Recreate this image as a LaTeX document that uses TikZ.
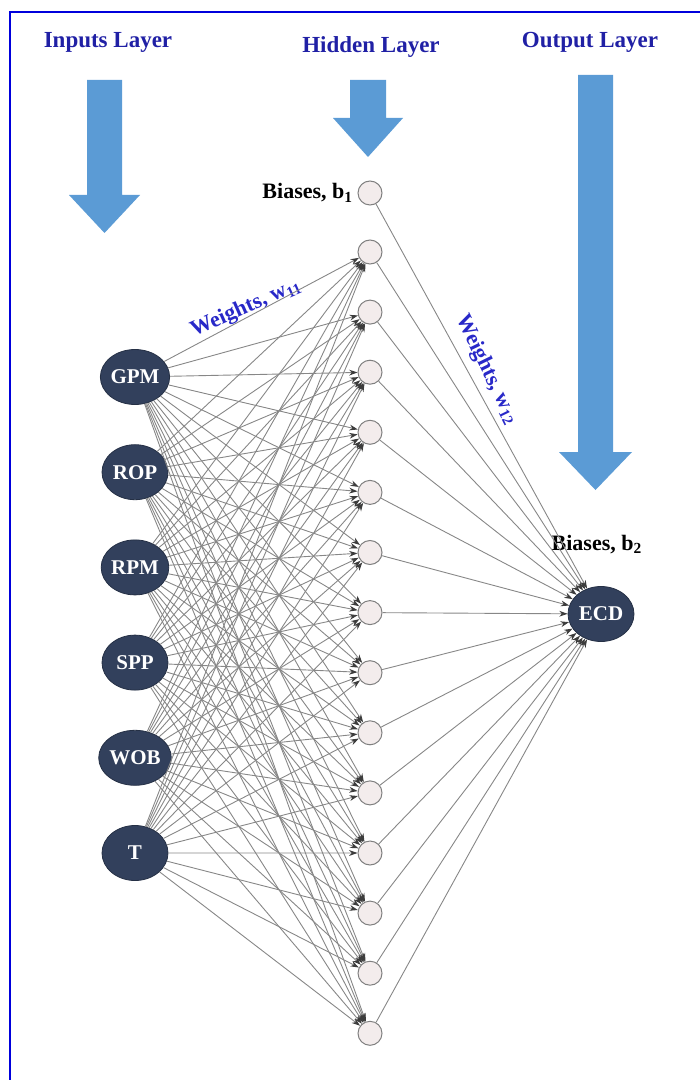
\documentclass[tikz,border=0pt]{standalone}
\usepackage{fontspec}
\setmainfont{Liberation Serif}
\usepackage{tikz}
\usetikzlibrary{arrows.meta,positioning,shapes.geometric}
\definecolor{framecol}{RGB}{0,0,220}
\definecolor{layerblue}{RGB}{91,155,213}
\definecolor{titleblue}{RGB}{32,32,165}
\definecolor{weightblue}{RGB}{40,40,200}
\definecolor{inpfill}{RGB}{50,64,92}
\definecolor{hidfill}{RGB}{243,236,236}
\definecolor{edgegray}{RGB}{135,135,135}
\definecolor{tipgray}{RGB}{60,60,60}

\begin{document}
\begin{tikzpicture}[
    x=0.5pt,y=-0.5pt,
    node distance=7pt,
    title/.style={text=titleblue,font=\fontsize{11.5}{13}\selectfont\bfseries},
    lab/.style={text=black,font=\fontsize{11}{13}\selectfont\bfseries,inner sep=1pt},
    wlab/.style={text=weightblue,font=\fontsize{11}{13}\selectfont\bfseries,inner sep=1pt},
    inp/.style={ellipse,draw=inpfill!75!black,fill=inpfill,text=white,minimum width=33pt,minimum height=27.5pt,inner sep=0pt,font=\fontsize{10.5}{12}\selectfont\bfseries},
    hid/.style={circle,draw=gray,fill=hidfill,minimum size=12pt,inner sep=0pt,line width=0.5pt},
    conn/.style={draw=edgegray,line width=0.45pt},
    blockarrow/.style={fill=layerblue},
    >={Stealth[length=4.2pt,width=2.9pt,color=tipgray]}
]
\useasboundingbox (0,0) rectangle (700,1080);
\draw[framecol,line width=1pt] (10,1090) -- (10,12) -- (710,12);

% layer titles and arrows
\node[title] (tin) at (108,42) {Inputs Layer};
\node[title] (thid) at (371,47) {Hidden Layer};
\node[title] (tout) at (590,42) {Output Layer};
\fill[blockarrow] (87,80) -- (122,80) -- (122,195) -- (140,195) -- (104.5,233) -- (69,195) -- (87,195) -- cycle;
\fill[blockarrow] (350,80) -- (386,80) -- (386,118) -- (403,118) -- (368,157) -- (333,118) -- (350,118) -- cycle;
\fill[blockarrow] (578,75) -- (613,75) -- (613,452) -- (632,452) -- (595.5,490) -- (559,452) -- (578,452) -- cycle;

% nodes
\foreach \name [count=\k] in {GPM,ROP,RPM,SPP,WOB,T}
    \node[inp] (i\k) at (135,{377+95.2*(\k-1)}) {\name};
\node[hid] (b1) at (370,193) {};
\foreach \k in {1,...,14}
    \node[hid] (h\k) at (370,{252+60.1*(\k-1)}) {};
\node[inp] (o) at (601,614) {ECD};

\node[lab,left=1pt of b1] (bl1) {Biases, b\textsubscript{1}};
\node[lab,above=15pt of o,xshift=-2pt] (bl2) {Biases, b\textsubscript{2}};
\node[wlab,rotate=24] (w11) at (246,308) {Weights, w\textsubscript{11}};
\node[wlab,rotate=-64] (w12) at (487,370) {Weights, w\textsubscript{12}};

% connections
\foreach \i in {1,...,6}
    \foreach \h in {1,...,14}
        \draw[conn,->] (i\i) -- (h\h);
\foreach \h in {1,...,14}
    \draw[conn,->] (h\h) -- (o);
\draw[conn,->] (b1) -- (o);
\end{tikzpicture}
\end{document}
